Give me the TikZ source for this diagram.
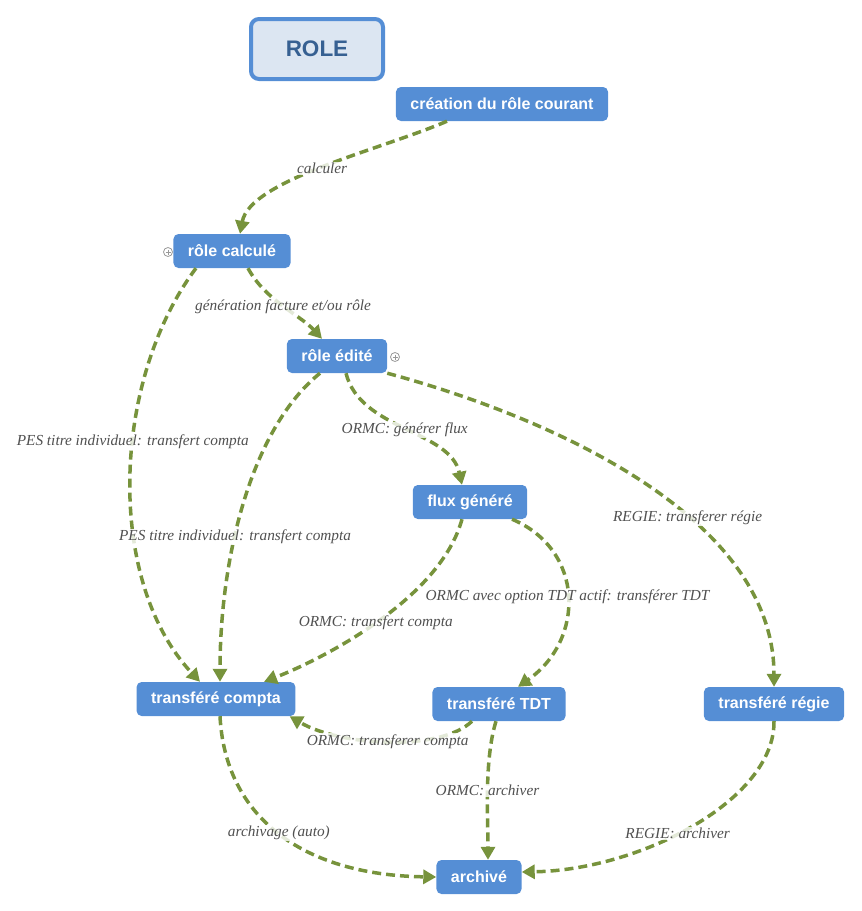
\documentclass[tikz,border=0pt]{standalone}
\usepackage{fontspec}
\setmainfont{Liberation Serif}
\setsansfont{Liberation Sans}
\usetikzlibrary{arrows.meta,calc}
\definecolor{nodeblue}{HTML}{558ED5}
\definecolor{rolefill}{HTML}{DCE6F2}
\definecolor{roletext}{HTML}{366092}
\definecolor{edgegreen}{HTML}{77933C}
\definecolor{labgray}{HTML}{505050}
\tikzset{
  state/.style={rectangle, rounded corners=5pt, fill=nodeblue, text=white,
    font=\sffamily\bfseries\fontsize{16}{18}\selectfont, inner xsep=14.5pt,
    minimum height=34pt},
  flow/.style={draw=edgegreen, line width=3.5pt, dash pattern=on 9pt off 5pt,
    -{Triangle[length=13pt,width=14pt]}},
  lab/.style={font=\itshape\fontsize{15.3}{17}\selectfont, text=labgray,
    fill=white, fill opacity=0.8, text opacity=1, inner sep=1pt},
  expander/.style={circle, draw=gray!80, line width=0.8pt, minimum size=9pt, inner sep=0pt}
}
\begin{document}
\begin{tikzpicture}[x=1pt,y=-1pt]
\path[use as bounding box] (0,0) rectangle (862,911);
\node[rectangle, rounded corners=8pt, draw=nodeblue, line width=4pt, fill=rolefill,
  minimum width=132pt, minimum height=60pt, text=roletext,
  font=\sffamily\bfseries\fontsize{22.5}{24}\selectfont] (role) at (317,49) {ROLE};
\node[state] (crea) at (502,104) {création du rôle courant};
\node[state] (calc) at (232,251) {rôle calculé};
\node[state] (edit) at (337,356) {rôle édité};
\node[state] (flux) at (470,502) {flux généré};
\node[state] (compta) at (216,699) {transféré compta};
\node[state] (tdt) at (499,704) {transféré TDT};
\node[state] (regie) at (774,704) {transféré régie};
\node[state] (arch) at (479,877) {archivé};

\node[expander] (plusA) at (168,252) {};
\draw[gray!80, line width=0.8pt] ($(plusA)+(-2.5,0)$) -- ($(plusA)+(2.5,0)$) ($(plusA)+(0,-2.5)$) -- ($(plusA)+(0,2.5)$);
\node[expander] (plusB) at (395,357) {};
\draw[gray!80, line width=0.8pt] ($(plusB)+(-2.5,0)$) -- ($(plusB)+(2.5,0)$) ($(plusB)+(0,-2.5)$) -- ($(plusB)+(0,2.5)$);

% edges
\draw[flow] ($(crea.south)+(-55,0)$) .. controls (380,150) and (250,180) .. ($(calc.north)+(8,0)$)
  node[lab, pos=0.5] {calculer};
\draw[flow] ($(calc.south)+(16,0)$) .. controls (265,300) and (300,315) .. ($(edit.north)+(-15,0)$)
  node[lab, pos=0.5] {génération facture et/ou rôle};
\draw[flow] ($(calc.south)+(-36,0)$) .. controls (112,380) and (105,580) .. ($(compta.north)+(-16,0)$)
  node[lab, pos=0.42] {PES titre individuel: transfert compta};
\draw[flow] ($(edit.south)+(-17,0)$) .. controls (250,430) and (220,560) .. ($(compta.north)+(4,0)$)
  node[lab, pos=0.6] {PES titre individuel: transfert compta};
\draw[flow] ($(edit.south)+(9,0)$) .. controls (360,430) and (450,430) .. ($(flux.north)+(-8,0)$)
  node[lab, pos=0.5] {ORMC: générer flux};
\draw[flow] (edit.south east) .. controls (560,420) and (774,520) .. (regie.north)
  node[lab, pos=0.6] {REGIE: transferer régie};
\draw[flow] ($(flux.south)+(-8,0)$) .. controls (440,600) and (320,660) .. ($(compta.north)+(48,0)$)
  node[lab, pos=0.5] {ORMC: transfert compta};
\draw[flow] ($(flux.south)+(42,0)$) .. controls (585,550) and (585,640) .. ($(tdt.north)+(19,0)$)
  node[lab, pos=0.5] {ORMC avec option TDT actif: transférer TDT};
\draw[flow] ($(tdt.south)+(-27,0)$) .. controls (440,752) and (340,746) .. ($(compta.south east)+(-6,0)$)
  node[lab, pos=0.5] {ORMC: transferer compta};
\draw[flow] ($(tdt.south)+(-3,0)$) .. controls (484,760) and (488,820) .. ($(arch.north)+(9,0)$)
  node[lab, pos=0.5] {ORMC: archiver};
\draw[flow] ($(compta.south)+(4,0)$) .. controls (225,815) and (300,875) .. (arch.west)
  node[lab, pos=0.5] {archivage (auto)};
\draw[flow] (regie.south) .. controls (775,800) and (640,870) .. ($(arch.east)+(0,-5)$)
  node[lab, pos=0.55] {REGIE: archiver};
\end{tikzpicture}
\end{document}
